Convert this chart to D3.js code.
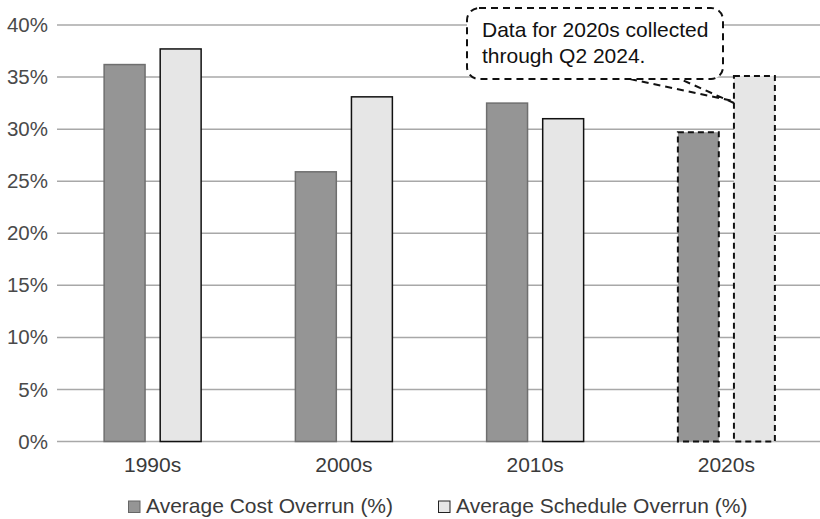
<!DOCTYPE html>
<html>
<head>
<meta charset="utf-8">
<script src="https://cdn.jsdelivr.net/npm/d3@7"></script>
<style>
  html, body { margin: 0; padding: 0; background: #fff; }
  svg { display: block; font-family: "Liberation Sans", Arial, Helvetica, sans-serif; }
</style>
</head>
<body>
<svg id="chart" width="820" height="519"></svg>
<script>
// Decades on the x axis
const decades = ["1990s", "2000s", "2010s", "2020s"];
// Average cost overrun per decade (%)
const costOverrun = [36.2, 25.9, 32.5, 29.7];
// Average schedule overrun per decade (%)
const scheduleOverrun = [37.7, 33.1, 31.0, 35.1];
// Value axis ticks (%)
const yTicks = [0, 5, 10, 15, 20, 25, 30, 35, 40];
const seriesNames = ["Average Cost Overrun (%)", "Average Schedule Overrun (%)"];
const noteLines = ["Data for 2020s collected", "through Q2 2024."];
const partialDecade = "2020s";

const svg = d3.select("#chart");
const W = 820, H = 519;
const m = { left: 57, top: 25, bottom: 77.5 };
const FONT = "Liberation Sans, Arial, sans-serif";

const x = d3.scaleBand().domain(decades).range([m.left, 822]).padding(0);
const y = d3.scaleLinear().domain([0, 40]).range([H - m.bottom, m.top]);

const seriesX = d3.scaleBand().domain([0, 1]).range([-48.5, 48.5]).paddingInner(0.27);

// Horizontal gridlines
svg.append("g")
  .selectAll("line")
  .data(yTicks)
  .join("line")
  .attr("x1", m.left).attr("x2", W)
  .attr("y1", d => y(d)).attr("y2", d => y(d))
  .attr("stroke", "#a8a8a8").attr("stroke-width", 1.5);

// Y axis labels
const yAxis = d3.axisLeft(y).tickValues(yTicks).tickFormat(d => d + "%").tickSize(0).tickPadding(9);
svg.append("g")
  .attr("transform", `translate(${m.left},0)`)
  .call(yAxis)
  .call(g => g.select(".domain").remove())
  .call(g => g.selectAll("text")
    .attr("font-size", 20.5)
    .attr("fill", "#4a4a4a")
    .attr("font-family", FONT));

// X axis labels
const xAxis = d3.axisBottom(x).tickSize(0).tickPadding(16);
svg.append("g")
  .attr("transform", `translate(0,${y(0)})`)
  .call(xAxis)
  .call(g => g.select(".domain").remove())
  .call(g => g.selectAll("text")
    .attr("font-size", 21)
    .attr("fill", "#3a3a3a")
    .attr("font-family", FONT));

const styles = [
  { fill: "#959595", stroke: "#6f6f6f" },
  { fill: "#e6e6e6", stroke: "#111" }
];

const rows = [];
decades.forEach((d, i) => {
  [costOverrun[i], scheduleOverrun[i]].forEach((v, s) => rows.push({ decade: d, s, v }));
});

// Bars
svg.append("g")
  .selectAll("rect")
  .data(rows)
  .join("rect")
  .attr("x", d => x(d.decade) + x.bandwidth() / 2 + seriesX(d.s))
  .attr("width", seriesX.bandwidth())
  .attr("y", d => y(d.v))
  .attr("height", d => y(0) - y(d.v))
  .attr("fill", d => styles[d.s].fill)
  .attr("stroke", d => d.decade === partialDecade ? "#111" : styles[d.s].stroke)
  .attr("stroke-width", d => d.decade === partialDecade ? 2 : 1.5)
  .attr("stroke-dasharray", d => d.decade === partialDecade ? "6,4" : null);

// Callout for the partial decade
const tipX = x(partialDecade) + x.bandwidth() / 2 + seriesX(1) - 1;
const tipY = y(scheduleOverrun[3]) + 27;
const note = svg.append("g");
const bx = 467, by = 8, bw = 256, bh = 71;
note.append("path")
  .attr("d", `M${630},${by + bh} L${tipX},${tipY - 2} M${tipX + 1},${tipY} L${680},${by + bh}`)
  .attr("fill", "none").attr("stroke", "#111").attr("stroke-width", 2)
  .attr("stroke-dasharray", "7,5");
note.append("rect")
  .attr("x", bx).attr("y", by).attr("width", bw).attr("height", bh)
  .attr("rx", 12).attr("ry", 12)
  .attr("fill", "#fff").attr("stroke", "#111").attr("stroke-width", 2)
  .attr("stroke-dasharray", "7,5");
note.append("text")
  .attr("x", bx + 15).attr("y", 37)
  .attr("font-size", 21).attr("fill", "#111").attr("font-family", FONT)
  .selectAll("tspan")
  .data(noteLines)
  .join("tspan")
  .attr("x", bx + 15)
  .attr("dy", (d, i) => i === 0 ? 0 : 26)
  .text(d => d);

// Legend
const legend = svg.append("g").attr("transform", "translate(0,513)");
const legendX = [128, 438];
seriesNames.forEach((name, i) => {
  const g = legend.append("g").attr("transform", `translate(${legendX[i]},0)`);
  g.append("rect")
    .attr("x", 0.5).attr("y", -12).attr("width", 11.5).attr("height", 11.5)
    .attr("fill", styles[i].fill).attr("stroke", i === 0 ? "#666" : "#222").attr("stroke-width", 1);
  g.append("text")
    .attr("x", 18).attr("y", 0)
    .attr("font-size", 21).attr("fill", "#3a3a3a").attr("font-family", FONT)
    .text(name);
});
</script>
</body>
</html>
